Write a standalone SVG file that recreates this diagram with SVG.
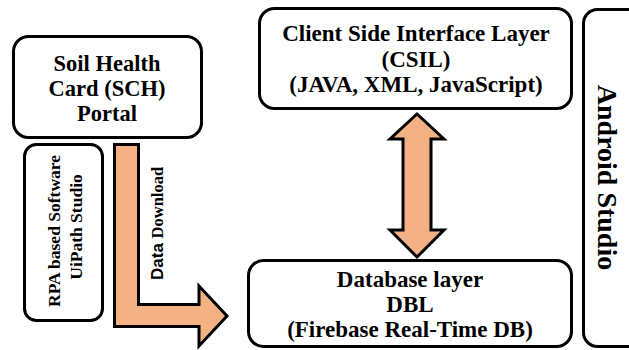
<svg xmlns="http://www.w3.org/2000/svg" width="629" height="350" viewBox="0 0 629 350">
<style>
.box{fill:#fff;stroke:#000;stroke-width:3}
.t{font-family:"Liberation Serif","Times New Roman",serif;font-weight:bold;font-size:23px;fill:#000;text-anchor:middle}
.arrow{fill:#F4B183;stroke:#000;stroke-width:3;stroke-linejoin:miter}
</style>
<rect width="629" height="350" fill="#fff"/>
<g id="android">
<rect class="box" x="583.5" y="9.5" width="70" height="337" rx="14"/>
<text class="t" style="font-size:28px" transform="translate(598,177.5) rotate(90)">Android Studio</text>
</g>
<g id="sch">
<rect class="box" x="13.5" y="36.5" width="188" height="101" rx="15"/>
<text class="t" style="font-size:22.5px" x="107" y="71">Soil Health</text>
<text class="t" style="font-size:22.5px" x="107" y="96">Card (SCH)</text>
<text class="t" style="font-size:22.5px" x="107" y="121">Portal</text>
</g>
<g id="csil">
<rect class="box" x="259.5" y="8.5" width="312" height="100" rx="15"/>
<text class="t" x="416" y="41">Client Side Interface Layer</text>
<text class="t" x="416" y="67">(CSIL)</text>
<text class="t" x="416" y="92">(JAVA, XML, JavaScript)</text>
</g>
<g id="dbl">
<rect class="box" x="248.5" y="260.5" width="323" height="86" rx="15"/>
<text class="t" x="410" y="287">Database layer</text>
<text class="t" x="410" y="312">DBL</text>
<text class="t" x="410" y="337">(Firebase Real-Time DB)</text>
</g>
<g id="rpa">
<rect class="box" x="24.5" y="144.5" width="78" height="176" rx="12"/>
<text class="t" style="font-size:17.5px" transform="translate(60,231) rotate(-90)">RPA based Software</text>
<text class="t" style="font-size:17.5px" transform="translate(82,227) rotate(-90)">UiPath Studio</text>
</g>
<g id="connectors">
<path class="arrow" d="M417,114 L444,139 L431,139 L431,230 L444,230 L417,257 L390,230 L403,230 L403,139 L390,139 Z"/>
<path class="arrow" d="M114.5,144.5 L138.5,144.5 L138.5,304.5 L199,304.5 L199,286 L227,316 L199,346 L199,326.5 L114.5,326.5 Z"/>
<text transform="translate(163,280) rotate(-90)" style="font-size:17px;font-weight:bold"><tspan style="font-family:'Liberation Sans',Arial,sans-serif">Data </tspan><tspan style="font-family:'Liberation Serif','Times New Roman',serif;font-size:16.5px">Download</tspan></text>
</g>
</svg>
